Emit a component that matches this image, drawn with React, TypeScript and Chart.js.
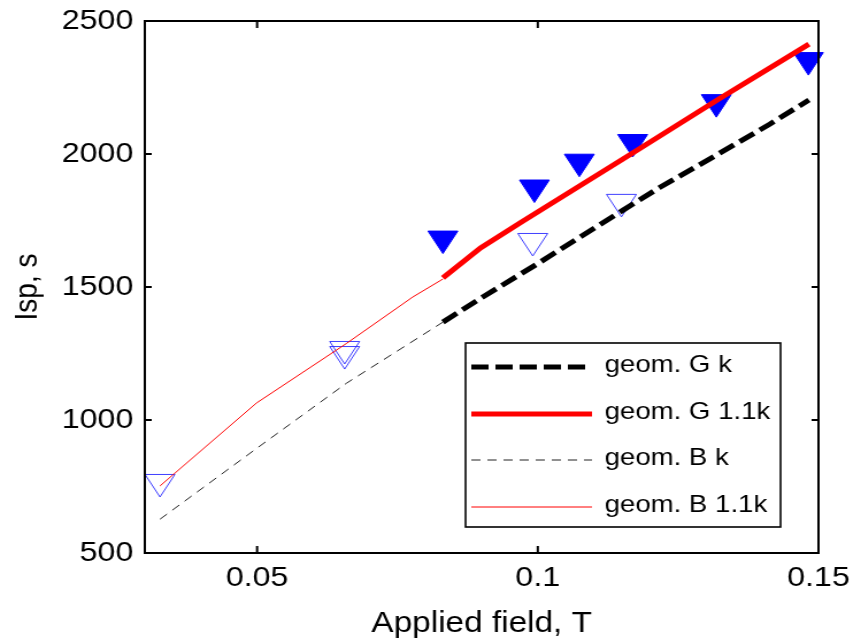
import React, { useEffect, useRef } from 'react';
import { Chart, registerables } from 'chart.js';

Chart.register(...registerables);

// ---- data ----
const xTicks = [0.05, 0.1, 0.15];
const xTickLabels = ['0.05', '0.1', '0.15'];
const yTicks = [500, 1000, 1500, 2000, 2500];
const yTickLabels = ['500', '1000', '1500', '2000', '2500'];

const legendLabels = ['geom. G k', 'geom. G 1.1k', 'geom. B k', 'geom. B 1.1k'];

// geom. G k (thick black dashed)
const gkX = [0.0831, 0.09, 0.1, 0.1152, 0.1217, 0.1324, 0.1413, 0.1483];
const gkY = [1368, 1460, 1588, 1789, 1874, 2003, 2112, 2203];

// geom. G 1.1k (thick red)
const g11X = [0.0831, 0.0898, 0.0971, 0.1169, 0.1324, 0.1483];
const g11Y = [1534, 1647, 1744, 2004, 2209, 2413];

// geom. B k (thin black dashed)
const bkX = [0.0327, 0.0499, 0.0659, 0.0831];
const bkY = [627, 893, 1138, 1368];

// geom. B 1.1k (thin red)
const b11X = [0.0327, 0.0499, 0.066, 0.0777, 0.0831];
const b11Y = [752, 1064, 1289, 1462, 1530];

// measured points, filled triangles
const filledX = [0.0831, 0.0994, 0.1074, 0.1169, 0.1318, 0.1482];
const filledY = [1682, 1874, 1971, 2045, 2195, 2353];

// measured points, open triangles
const openX = [0.0327, 0.0656, 0.0656, 0.0991, 0.1149];
const openY = [767, 1248, 1267, 1673, 1820];

const FONT = "'Liberation Sans', Arial, Helvetica, sans-serif";

const pts = (xs: number[], ys: number[]) => xs.map((x, i) => ({ x, y: ys[i] }));

const framePlugin = {
  id: 'frameTicks',
  afterDatasetsDraw(chart: any) {
    const { ctx, chartArea: ca } = chart;
    const xs = chart.scales.x;
    const ys = chart.scales.y;
    ctx.save();
    ctx.strokeStyle = '#000';
    ctx.lineWidth = 2;
    ctx.setLineDash([]);
    ctx.strokeRect(ca.left, ca.top, ca.right - ca.left, ca.bottom - ca.top);
    const tl = 7;
    const tlx = 6;
    ctx.beginPath();
    xTicks.forEach((v) => {
      const p = xs.getPixelForValue(v);
      ctx.moveTo(p, ca.bottom);
      ctx.lineTo(p, ca.bottom - tl);
      ctx.moveTo(p, ca.top);
      ctx.lineTo(p, ca.top + tl);
    });
    yTicks.forEach((v) => {
      const p = ys.getPixelForValue(v);
      ctx.moveTo(ca.left, p);
      ctx.lineTo(ca.left + tlx, p);
      ctx.moveTo(ca.right, p);
      ctx.lineTo(ca.right - tlx, p);
    });
    ctx.stroke();
    ctx.restore();
  },
};

const legendPlugin = {
  id: 'boxLegend',
  afterDraw(chart: any) {
    const { ctx, chartArea: ca } = chart;
    const bx = ca.left + 279;
    const by = ca.top + 322;
    const bw = 274;
    const bh = 184;
    ctx.save();
    ctx.fillStyle = '#fff';
    ctx.fillRect(bx, by, bw, bh);
    ctx.strokeStyle = '#000';
    ctx.lineWidth = 1.6;
    ctx.setLineDash([]);
    ctx.strokeRect(bx, by, bw, bh);
    const baselines = [29, 76, 122, 169];
    const entries = chart.data.datasets.filter((d: any) => legendLabels.includes(d.label));
    ctx.font = `24px ${FONT}`;
    ctx.textBaseline = 'alphabetic';
    ctx.textAlign = 'left';
    entries.forEach((d: any, i: number) => {
      const base = by + baselines[i];
      const ly = base - 5;
      ctx.beginPath();
      ctx.strokeStyle = d.borderColor;
      ctx.lineWidth = d.borderWidth;
      ctx.lineCap = 'butt';
      ctx.setLineDash(d.borderDash || []);
      ctx.moveTo(bx + 5, ly);
      ctx.lineTo(bx + 110, ly);
      ctx.stroke();
      ctx.setLineDash([]);
      ctx.fillStyle = '#000';
      ctx.fillText(d.label, bx + 121, base);
    });
    ctx.restore();
  },
};

export default function App() {
  const ref = useRef<HTMLCanvasElement | null>(null);

  useEffect(() => {
    if (!ref.current) return;
    const lineBase = { pointRadius: 0, fill: false, tension: 0, borderCapStyle: 'butt' };
    const chart = new Chart(ref.current, {
      type: 'line',
      data: {
        datasets: [
          { ...lineBase, label: legendLabels[0], data: pts(gkX, gkY), borderColor: '#000000', borderWidth: 5, borderDash: [15, 6] },
          { ...lineBase, label: legendLabels[1], data: pts(g11X, g11Y), borderColor: '#ff0000', borderWidth: 5 },
          { ...lineBase, label: legendLabels[2], data: pts(bkX, bkY), borderColor: '#222222', borderWidth: 1, borderDash: [8, 6] },
          { ...lineBase, label: legendLabels[3], data: pts(b11X, b11Y), borderColor: '#ff0000', borderWidth: 1 },
          {
            data: pts(filledX, filledY), showLine: false, pointStyle: 'triangle', rotation: 180,
            pointRadius: 15, backgroundColor: '#0000ff', borderColor: '#0000ff', borderWidth: 1, clip: false,
          },
          {
            data: pts(openX, openY), showLine: false, pointStyle: 'triangle', rotation: 180,
            pointRadius: 15, backgroundColor: 'rgba(0,0,0,0)', borderColor: 'rgba(30,30,255,0.85)', borderWidth: 1, clip: false,
          },
        ] as any,
      },
      options: {
        responsive: false,
        animation: false,
        devicePixelRatio: 1,
        layout: { padding: { left: 0, right: 30, top: 21, bottom: 0 } },
        plugins: { legend: { display: false }, tooltip: { enabled: false } },
        scales: {
          x: {
            type: 'linear',
            min: 0.03,
            max: 0.15,
            grid: { display: false, drawTicks: false },
            border: { display: false },
            afterBuildTicks: (s: any) => { s.ticks = xTicks.map((v) => ({ value: v })); },
            afterFit: (s: any) => { s.height = 89; s.paddingLeft = 0; s.paddingRight = 0; },
            ticks: {
              padding: 8,
              color: '#000',
              autoSkip: false,
              maxRotation: 0,
              minRotation: 0,
              font: { family: FONT, size: 28 },
              callback: (v: any) => { const i = xTicks.indexOf(v); return i >= 0 ? xTickLabels[i] : ''; },
            },
            title: { display: true, text: 'Applied field, T', color: '#000', font: { family: FONT, size: 29 }, padding: { top: 0, bottom: 1 } },
          },
          y: {
            type: 'linear',
            min: 500,
            max: 2500,
            grid: { display: false, drawTicks: false },
            border: { display: false },
            afterBuildTicks: (s: any) => { s.ticks = yTicks.map((v) => ({ value: v })); },
            afterFit: (s: any) => { s.width = 126; s.paddingTop = 0; s.paddingBottom = 0; },
            ticks: {
              padding: 10,
              color: '#000',
              autoSkip: false,
              font: { family: FONT, size: 28 },
              callback: (v: any) => { const i = yTicks.indexOf(v); return i >= 0 ? yTickLabels[i] : ''; },
            },
            title: { display: true, text: 'Isp, s', color: '#000', font: { family: FONT, size: 28 }, padding: { top: 7, bottom: 0 } },
          },
        },
      } as any,
      plugins: [framePlugin, legendPlugin],
    });
    return () => chart.destroy();
  }, []);

  return (
    <canvas
      ref={ref}
      width={742}
      height={642}
      style={{ position: 'absolute', left: 0, top: 0, width: '853px', height: '642px', background: '#fff' }}
    />
  );
}
